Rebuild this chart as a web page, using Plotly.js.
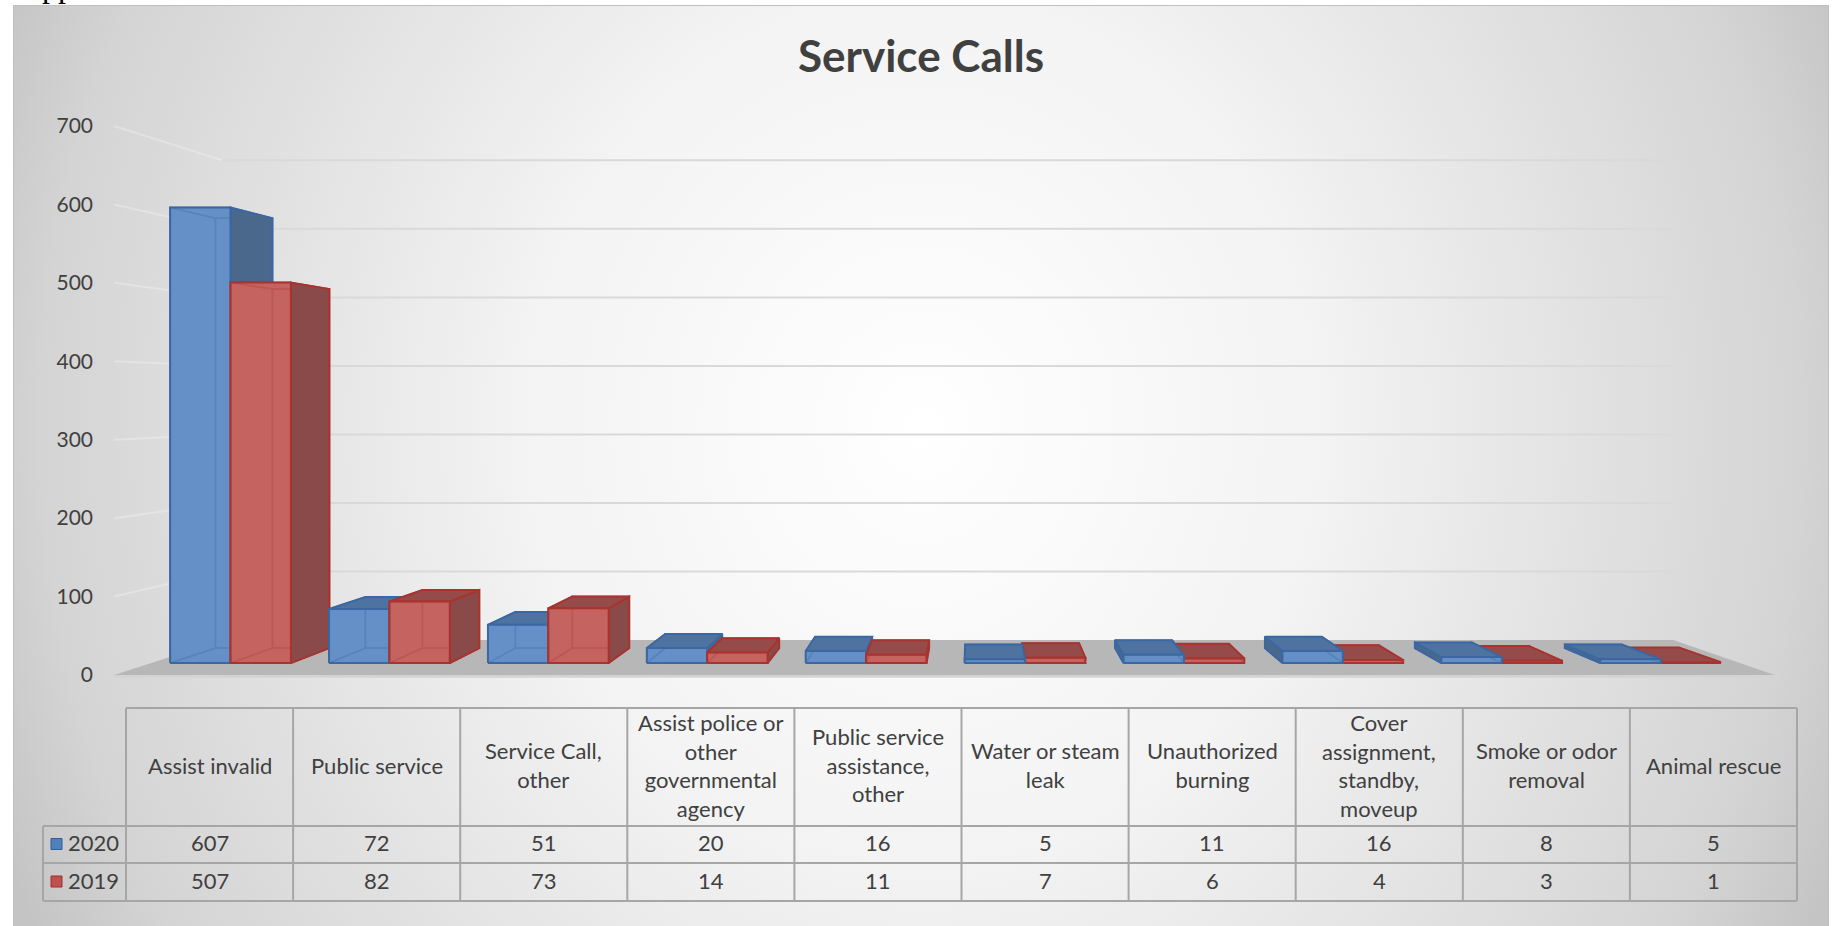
<!DOCTYPE html>
<html><head><meta charset="utf-8">
<script src="https://cdn.plot.ly/plotly-3.0.1.min.js"></script>
<style>
html,body{margin:0;padding:0;background:#fff;width:1832px;height:926px;overflow:hidden;}
#frag{position:absolute;left:42px;top:-30px;font-family:"Liberation Serif",serif;font-size:32px;line-height:32px;color:#000;}
#box{position:absolute;left:13px;top:5px;width:1814px;height:940px;border:1.5px solid #bfbfbf;border-bottom:none;
 background:radial-gradient(ellipse 1000px 1100px at 908px 420px,#ffffff 0%,#f3f3f3 40%,#d4d4d4 88%,#c4c4c4 100%);}
#chart{position:absolute;left:0;top:0;width:1832px;height:926px;}
</style></head>
<body>
<div id="frag">pp</div>
<div id="box"></div>
<div id="chart"></div>
<script>
// ---------------- data ----------------
const categories = ["Assist invalid","Public service","Service Call, other","Assist police or other governmental agency","Public service assistance, other","Water or steam leak","Unauthorized burning","Cover assignment, standby, moveup","Smoke or odor removal","Animal rescue"];
const headerLabels = ["Assist invalid","Public service","Service Call,<br>other","Assist police or<br>other<br>governmental<br>agency","Public service<br>assistance,<br>other","Water or steam<br>leak","Unauthorized<br>burning","Cover<br>assignment,<br>standby,<br>moveup","Smoke or odor<br>removal","Animal rescue"];
const seriesNames = ["2020","2019"];
const series2020 = [607,72,51,20,16,5,11,16,8,5];
const series2019 = [507,82,73,14,11,7,6,4,3,1];
const yTicks = [0,100,200,300,400,500,600,700];

// ---------------- geometry ----------------
const GEO = {L:98, R:41, T:117, B:242, W:1832, H:926};
const X0 = 197.1, XS = 166.05;   // floor-front plane
const Y0 = 675, YS = 0.7843;
const VPX = 973, VPY = 398;
const xvp = (VPX - X0)/XS, yvp = (Y0 - VPY)/YS;
const S_FRONT = 0.9569, S_BACK = 0.9029, S_WALL = 0.8737;
const BARW = 0.38;
const plotW = GEO.W - GEO.L - GEO.R, plotH = GEO.H - GEO.T - GEO.B;
const xRange = [(GEO.L - X0)/XS, (GEO.W - GEO.R - X0)/XS];
const yRange = [(Y0 - (GEO.H - GEO.B))/YS, (Y0 - GEO.T)/YS];
function P(x, v, s){ return [xvp + (x - xvp)*s, yvp + (v - yvp)*s]; }

const BLUE = {hidden:'rgb(85,128,185)', hiddenEdge:'rgba(52,95,155,0.9)', edge:'#3b67a3', side:'#4a688c', top:'#4e73a0', front:'rgba(110,155,208,0.6)'};
const RED  = {hidden:'rgb(170,75,75)', hiddenEdge:'rgba(150,45,42,0.9)', edge:'#a8332f', side:'#8a4a4a', top:'#964b4b', front:'rgba(213,115,110,0.6)'};

function poly(pts, fill, lineColor, lw, name){
  const xs = pts.map(p=>p[0]); xs.push(pts[0][0]);
  const ys = pts.map(p=>p[1]); ys.push(pts[0][1]);
  return {type:'scatter', mode:'lines', x:xs, y:ys, fill:'toself', fillcolor:fill,
          line:{color:lineColor, width:lw}, hoverinfo:'skip', showlegend:false, name:name||''};
}
function multiLine(list, color, w){
  const xs=[], ys=[];
  list.forEach(pts=>{ pts.forEach(p=>{xs.push(p[0]); ys.push(p[1]);}); xs.push(null); ys.push(null); });
  return {type:'scatter', mode:'lines', x:xs, y:ys, line:{color:color, width:w}, hoverinfo:'skip', showlegend:false};
}

const traces = [];
const xL = -0.5, xR = categories.length - 0.5;
// floor
traces.push(poly([P(xL,0,1),P(xR,0,1),P(xR,-3.5,1),P(xL,-3.5,1)], '#d3d3d3', '#d3d3d3', 0));
traces.push(poly([P(xL,0,1),P(xR,0,1),P(xR,0,S_WALL),P(xL,0,S_WALL)], '#b7b7b7', '#b7b7b7', 0));
// gridlines: back wall and left wall
const back = [], side = [];
yTicks.filter(v=>v>0).forEach(v=>{
  back.push([P(xL,v,S_WALL), P(xR,v,S_WALL)]);
  side.push([P(xL,v,1), P(xL,v,S_WALL)]);
});
traces.push(multiLine(side, 'rgba(245,245,245,0.35)', 2));
traces.push(multiLine(back, '#d9d9d9', 2));

// bars
const SERIES = [
  {name:seriesNames[0], vals:series2020, off:-BARW, c:BLUE},
  {name:seriesNames[1], vals:series2019, off:0, c:RED}
];
function drawBar(i, ser){
  const v = ser.vals[i], xl = i + ser.off, xr = xl + BARW, c = ser.c;
  const F = (x,y)=>P(x,y,S_FRONT), B = (x,y)=>P(x,y,S_BACK);
  const fbl=F(xl,0), fbr=F(xr,0), ftl=F(xl,v), ftr=F(xr,v);
  const bbl=B(xl,0), bbr=B(xr,0), btl=B(xl,v), btr=B(xr,v);
  const leftVis = xl > xvp, rightVis = xr < xvp, topVis = v < yvp;
  const hidden = [[bbl,bbr,btr,btl],[fbl,fbr,bbr,bbl]];
  if(!leftVis) hidden.push([fbl,bbl,btl,ftl]);
  if(!rightVis) hidden.push([fbr,bbr,btr,ftr]);
  if(!topVis) hidden.push([ftl,ftr,btr,btl]);
  hidden.forEach(f=>traces.push(poly(f, c.hidden, c.hidden, 0)));
  traces.push(multiLine(hidden.map(f=>f.concat([f[0]])), c.hiddenEdge, 1.5));
  if(leftVis) traces.push(poly([fbl,bbl,btl,ftl], c.side, c.edge, 2));
  if(rightVis) traces.push(poly([fbr,bbr,btr,ftr], c.side, c.edge, 2));
  if(topVis) traces.push(poly([ftl,ftr,btr,btl], c.top, c.edge, 2));
  traces.push(poly([fbl,fbr,ftr,ftl], c.front, c.edge, 2, ser.name + ': ' + categories[i]));
}
categories.forEach((cat, i)=>{
  const order = (i < xvp) ? [0,1] : [1,0];
  order.forEach(k=>drawBar(i, SERIES[k]));
});

// ---------------- data table ----------------
const px2x = px => (px - GEO.L)/plotW;
const py2y = py => (GEO.T + plotH - py)/plotH;
const TBL = {left:126, colW:167.1, legLeft:43, top:708, hdrBot:826, r1Bot:863, r2Bot:901};
const nC = categories.length;
const tRight = TBL.left + nC*TBL.colW;
const shapes = [];
const ln = (x0,y0,x1,y1)=>shapes.push({type:'line', xref:'paper', yref:'paper', x0:px2x(x0), y0:py2y(y0), x1:px2x(x1), y1:py2y(y1), line:{color:'#a6a6a6', width:2}});
ln(TBL.left, TBL.top, tRight, TBL.top);
[TBL.hdrBot, TBL.r1Bot, TBL.r2Bot].forEach(y=>ln(TBL.legLeft, y, tRight, y));
ln(TBL.legLeft, TBL.hdrBot, TBL.legLeft, TBL.r2Bot);
for(let k=0;k<=nC;k++) ln(TBL.left + k*TBL.colW, TBL.top, TBL.left + k*TBL.colW, TBL.r2Bot);

const TFONT = {family:'Lato, "Open Sans", sans-serif', size:22, color:'#404040'};
const ann = [];
const rowMid = [(TBL.hdrBot+TBL.r1Bot)/2 - 2, (TBL.r1Bot+TBL.r2Bot)/2 - 2];
const rowVals = [series2020, series2019];
const keyFill = ['#4f81bd','#c0504d'], keyLine = ['#2f5f9a','#9b2f2c'];
categories.forEach((cat,i)=>{
  const cx = px2x(TBL.left + (i+0.5)*TBL.colW);
  ann.push({xref:'paper', yref:'paper', x:cx, y:py2y((TBL.top+TBL.hdrBot)/2 - 2), text:headerLabels[i], showarrow:false, xanchor:'center', yanchor:'middle', align:'center', font:TFONT});
  rowVals.forEach((vals,r)=>{
    ann.push({xref:'paper', yref:'paper', x:cx, y:py2y(rowMid[r]), text:String(vals[i]), showarrow:false, xanchor:'center', yanchor:'middle', font:TFONT});
  });
});
seriesNames.forEach((nm,r)=>{
  shapes.push({type:'rect', xref:'paper', yref:'paper', x0:px2x(51), x1:px2x(62), y0:py2y(rowMid[r]+7), y1:py2y(rowMid[r]-4), fillcolor:keyFill[r], line:{color:keyLine[r], width:1}});
  ann.push({xref:'paper', yref:'paper', x:px2x(66), y:py2y(rowMid[r]), text:nm, showarrow:false, xanchor:'left', yanchor:'middle', font:TFONT});
});

const layout = {
  width:GEO.W, height:GEO.H, autosize:false,
  margin:{l:GEO.L, r:GEO.R, t:GEO.T, b:GEO.B, pad:0},
  paper_bgcolor:'rgba(0,0,0,0)', plot_bgcolor:'rgba(0,0,0,0)',
  showlegend:false,
  title:{text:'Service Calls', font:{family:'Lato, "Open Sans", sans-serif', size:44, color:'#404040', weight:700},
         x:921/GEO.W, xref:'container', xanchor:'center', y:1-57/GEO.H, yref:'container', yanchor:'middle'},
  xaxis:{range:xRange, showgrid:false, zeroline:false, showline:false, showticklabels:false, ticks:'', fixedrange:true},
  yaxis:{range:yRange, tickvals:yTicks, ticktext:yTicks.map(String), showgrid:false, zeroline:false, showline:false, ticks:'',
         ticklabelstandoff:4, tickfont:{family:'Lato, "Open Sans", sans-serif', size:21, color:'#404040'}, fixedrange:true},
  shapes:shapes, annotations:ann
};
Plotly.newPlot('chart', traces, layout, {displayModeBar:false, staticPlot:true});
</script>
</body></html>
